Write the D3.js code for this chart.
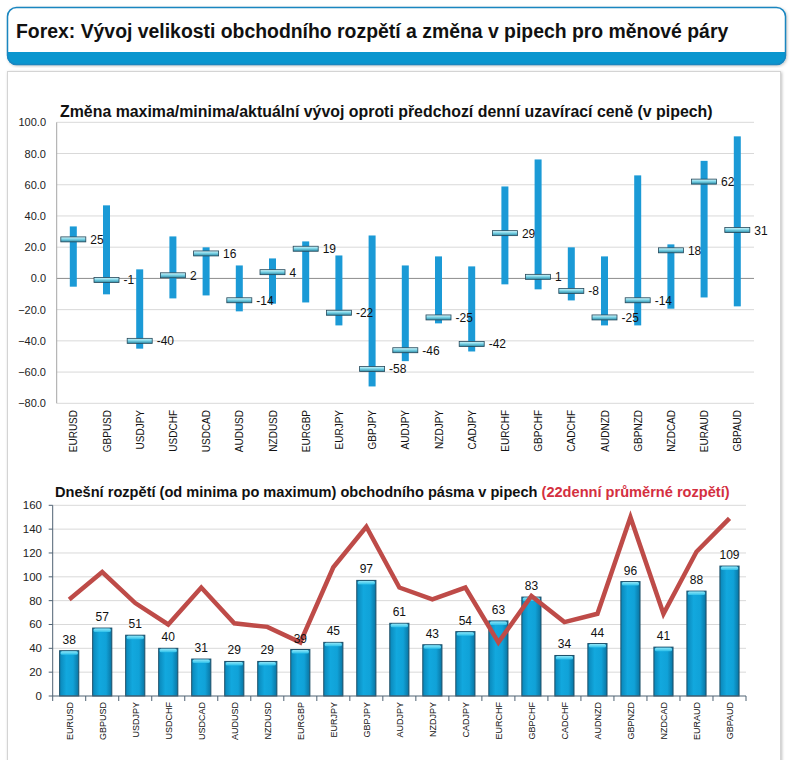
<!DOCTYPE html>
<html><head><meta charset="utf-8">
<script src="https://cdnjs.cloudflare.com/ajax/libs/d3/7.8.5/d3.min.js"></script>
<style>body{margin:0;background:#fff}svg{display:block}</style>
</head><body>
<script>
const pairs = ["EURUSD","GBPUSD","USDJPY","USDCHF","USDCAD","AUDUSD","NZDUSD","EURGBP","EURJPY","GBPJPY","AUDJPY","NZDJPY","CADJPY","EURCHF","GBPCHF","CADCHF","AUDNZD","GBPNZD","NZDCAD","EURAUD","GBPAUD"];
const highs = [33.3,46.8,5.8,26.9,19.9,8.3,12.8,23.7,14.7,27.5,8.3,14.1,7.7,58.9,76.2,19.9,14.1,66,21.8,75.3,91];
const lows = [-5.3,-10.2,-45,-12.8,-10.9,-21.1,-16.2,-15.4,-30.1,-69.2,-53,-28.8,-46.8,-3.8,-7,-14.1,-30.1,-30.1,-19.4,-12.2,-17.9];
const current = [25,-1,-40,2,16,-14,4,19,-22,-58,-46,-25,-42,29,1,-8,-25,-14,18,62,31];
const ranges = [38,57,51,40,31,29,29,39,45,97,61,43,54,63,83,34,44,96,41,88,109];
const avg22 = [81,104,78,60,91,61,58,45,108,142,91,81,91,45,84,62,69,150,69,121,149];
const topTicks = [-80,-60,-40,-20,0,20,40,60,80,100];
const botTicks = [0,20,40,60,80,100,120,140,160];

const W = 793, H = 760;
const svg = d3.select("body").append("svg").attr("width", W).attr("height", H);
const defs = svg.append("defs");

const cg = defs.append("linearGradient").attr("id","capg").attr("x1",0).attr("y1",0).attr("x2",0).attr("y2",1);
cg.append("stop").attr("offset","0%").attr("stop-color","#d8f6fb");
cg.append("stop").attr("offset","45%").attr("stop-color","#7fd6e8");
cg.append("stop").attr("offset","100%").attr("stop-color","#2b8aa6");
const bg = defs.append("linearGradient").attr("id","barg").attr("x1",0).attr("y1",0).attr("x2",1).attr("y2",0);
bg.append("stop").attr("offset","0%").attr("stop-color","#0a86b8");
bg.append("stop").attr("offset","35%").attr("stop-color","#12a8de");
bg.append("stop").attr("offset","70%").attr("stop-color","#10a2d8");
bg.append("stop").attr("offset","100%").attr("stop-color","#0a74a2");
const hg = defs.append("linearGradient").attr("id","barh").attr("x1",0).attr("y1",0).attr("x2",0).attr("y2",1);
hg.append("stop").attr("offset","0%").attr("stop-color","#8fe6f8");
hg.append("stop").attr("offset","100%").attr("stop-color","#2cc0ea");
const sh = defs.append("filter").attr("id","shadow").attr("x","-5%").attr("y","-5%").attr("width","110%").attr("height","110%");
sh.append("feDropShadow").attr("dx",1).attr("dy",1).attr("stdDeviation",1.5).attr("flood-color","#000").attr("flood-opacity",0.25);

const fam = "Liberation Sans, Arial, sans-serif";

// Header box
defs.append("clipPath").attr("id","hclip").append("rect")
  .attr("x",7).attr("y",7).attr("width",779).attr("height",58).attr("rx",9);
svg.append("rect").attr("x",7).attr("y",7).attr("width",779).attr("height",58).attr("rx",9)
  .attr("fill","#fff").attr("filter","url(#shadow)");
svg.append("rect").attr("x",7).attr("y",52).attr("width",779).attr("height",13)
  .attr("fill","#0a96cf").attr("clip-path","url(#hclip)");
svg.append("rect").attr("x",7.5).attr("y",7.5).attr("width",778).attr("height",57).attr("rx",9)
  .attr("fill","none").attr("stroke","#1a86c0").attr("stroke-width",1.5);
svg.append("text").attr("x",16).attr("y",38)
  .attr("font-family",fam).attr("font-weight","bold")
  .attr("font-size",19.4).attr("fill","#111")
  .text("Forex: Vývoj velikosti obchodního rozpětí a změna v pipech pro měnové páry");

// Panel
svg.append("rect").attr("x",7.5).attr("y",71.5).attr("width",773).attr("height",720)
  .attr("fill","#fff").attr("stroke","#d4d4d4").attr("filter","url(#shadow)");

// ---------- Top chart ----------
const tL = 56.7, tR = 754, tTop = 122.3, tBot = 403.3;
const xT = d3.scaleBand().domain(pairs).range([tL, tL + 33.2*21]).padding(0);
const yT = d3.scaleLinear().domain([-80,100]).range([tBot, tTop]);

svg.append("text").attr("x",60).attr("y",117).attr("font-family",fam).attr("font-weight","bold")
  .attr("font-size",15.9).attr("fill","#111")
  .text("Změna maxima/minima/aktuální vývoj oproti předchozí denní uzavírací ceně (v pipech)");

const gT = svg.append("g");
gT.selectAll("line.grid").data(topTicks).join("line")
  .attr("x1",tL).attr("x2",tR).attr("y1",d=>yT(d)).attr("y2",d=>yT(d))
  .attr("stroke",d=>d===0?"#8c8c8c":"#d9d9d9").attr("stroke-width",1);
gT.append("line").attr("x1",tL).attr("x2",tL).attr("y1",tTop).attr("y2",tBot).attr("stroke","#a6a6a6");
gT.selectAll("text.yl").data(topTicks).join("text")
  .attr("x",46).attr("y",d=>yT(d)+4).attr("text-anchor","end")
  .attr("font-family",fam).attr("font-size",11).attr("fill","#222")
  .text(d=>d3.format(".1f")(d));

const cx = p => xT(p) + xT.bandwidth()/2;
gT.selectAll("rect.err").data(pairs).join("rect")
  .attr("x",p=>cx(p)-3.5).attr("width",7)
  .attr("y",(p,i)=>yT(highs[i])).attr("height",(p,i)=>yT(lows[i])-yT(highs[i]))
  .attr("fill","#1b9ad6");
gT.selectAll("rect.cap").data(pairs).join("rect")
  .attr("x",p=>cx(p)-12.5).attr("width",25)
  .attr("y",(p,i)=>yT(current[i])-2.5).attr("height",5)
  .attr("fill","url(#capg)").attr("stroke","#24485a").attr("stroke-width",0.8);
gT.selectAll("text.cl").data(pairs).join("text")
  .attr("x",p=>cx(p)+17).attr("y",(p,i)=>yT(current[i])+4.5)
  .attr("font-family",fam).attr("font-size",12).attr("fill","#111")
  .text((p,i)=>current[i]);
gT.selectAll("text.xl").data(pairs).join("text")
  .attr("transform",p=>`translate(${cx(p)+4},410) rotate(-90)`)
  .attr("text-anchor","end").attr("font-family",fam).attr("font-size",10).attr("fill","#111")
  .text(p=>p);

// ---------- Bottom chart ----------
const bL = 52.7, bR = 746, bTop = 505.3, bBot = 696;
const xB = d3.scaleBand().domain(pairs).range([bL, bR]).paddingInner(0.42).paddingOuter(0.21);
const xBc = d3.scaleBand().domain(pairs).range([bL, bR]).padding(0);
const yB = d3.scaleLinear().domain([0,160]).range([bBot, bTop]);

const bt = svg.append("text").attr("x",55).attr("y",497).attr("font-family",fam).attr("font-weight","bold")
  .attr("font-size",14.6).attr("fill","#111");
bt.append("tspan").text("Dnešní rozpětí (od minima po maximum) obchodního pásma v pipech ");
bt.append("tspan").attr("fill","#d42f3f").text("(22denní průměrné rozpětí)");

const gB = svg.append("g");
gB.selectAll("line.grid").data(botTicks.filter(d=>d>0)).join("line")
  .attr("x1",bL).attr("x2",bR).attr("y1",d=>yB(d)).attr("y2",d=>yB(d))
  .attr("stroke","#d9d9d9");
gB.append("line").attr("x1",bL).attr("x2",bL).attr("y1",bTop).attr("y2",bBot).attr("stroke","#4f6273");
gB.selectAll("line.yt").data(botTicks).join("line")
  .attr("x1",bL-4).attr("x2",bL).attr("y1",d=>yB(d)).attr("y2",d=>yB(d)).attr("stroke","#4f6273");
gB.selectAll("text.yl").data(botTicks).join("text")
  .attr("x",42).attr("y",d=>yB(d)+4).attr("text-anchor","end")
  .attr("font-family",fam).attr("font-size",11.5).attr("fill","#222").text(d=>d);

gB.selectAll("rect.bar").data(pairs).join("rect")
  .attr("x",p=>xB(p)).attr("width",xB.bandwidth())
  .attr("y",(p,i)=>yB(ranges[i])).attr("height",(p,i)=>bBot-yB(ranges[i]))
  .attr("fill","url(#barg)").attr("stroke","#1d4f68").attr("stroke-width",1);
gB.selectAll("rect.hl").data(pairs).join("rect")
  .attr("x",p=>xB(p)+1).attr("width",xB.bandwidth()-2)
  .attr("y",(p,i)=>yB(ranges[i])+0.5).attr("height",3.5).attr("rx",1.5)
  .attr("fill","url(#barh)");

gB.append("line").attr("x1",bL).attr("x2",bR).attr("y1",bBot).attr("y2",bBot).attr("stroke","#4f6273");
gB.selectAll("line.xt").data(d3.range(22)).join("line")
  .attr("x1",i=>bL+i*xBc.bandwidth()).attr("x2",i=>bL+i*xBc.bandwidth())
  .attr("y1",bBot).attr("y2",bBot+5).attr("stroke","#4f6273");

const line = d3.line().x((d,i)=>xBc(pairs[i])+xBc.bandwidth()/2).y(d=>yB(d));
gB.append("path").datum(avg22).attr("d",line).attr("fill","none")
  .attr("stroke","#be4b48").attr("stroke-width",4.5).attr("stroke-linejoin","miter");

gB.selectAll("text.bl").data(pairs).join("text")
  .attr("x",p=>xBc(p)+xBc.bandwidth()/2).attr("y",(p,i)=>yB(ranges[i])-7)
  .attr("text-anchor","middle").attr("font-family",fam).attr("font-size",12)
  .attr("fill","#111").text((p,i)=>ranges[i]);
gB.selectAll("text.xl").data(pairs).join("text")
  .attr("transform",p=>`translate(${xBc(p)+xBc.bandwidth()/2+3.5},702) rotate(-90)`)
  .attr("text-anchor","end").attr("font-family",fam).attr("font-size",9).attr("fill","#111")
  .text(p=>p);
</script>
</body></html>
